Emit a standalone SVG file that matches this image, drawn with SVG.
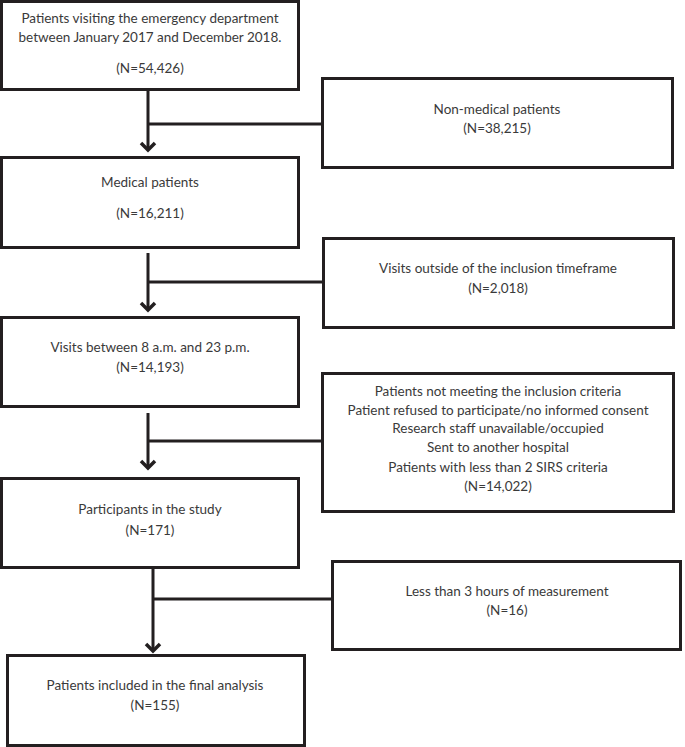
<svg xmlns="http://www.w3.org/2000/svg" width="685" height="747" viewBox="0 0 685 747">
<style>
.box{fill:#fff;stroke:#231f20;stroke-width:3}
.t{font-family:Lato,"Open Sans","Liberation Sans",sans-serif;font-size:13.5px;fill:#3a3a3a;text-anchor:middle;dominant-baseline:central}
.c{fill:none;stroke:#231f20;stroke-width:3}
.ah{fill:none;stroke:#231f20;stroke-width:3.5}
</style>
<rect width="685" height="747" fill="#fff"/>
<g id="connectors">
<path class="c" d="M148 89V150M148 124H322"/>
<polyline class="ah" points="141,143 148,150 155,143"/>
<path class="c" d="M148 253V310M148 282H322"/>
<polyline class="ah" points="141,303 148,310 155,303"/>
<path class="c" d="M148 413V468M148 441H322"/>
<polyline class="ah" points="141,461 148,468 155,461"/>
<path class="c" d="M153 568V651M153 599H332"/>
<polyline class="ah" points="146,644 153,651 160,644"/>
</g>
<g id="n1"><rect class="box" x="1.5" y="1.5" width="297" height="88"/>
<text class="t" x="150" y="18">Patients visiting the emergency department</text>
<text class="t" x="150" y="37">between January 2017 and December 2018.</text>
<text class="t" x="150" y="68">(N=54,426)</text></g>
<g id="n2"><rect class="box" x="322.5" y="78.5" width="350" height="89"/>
<text class="t" x="497" y="109">Non-medical patients</text>
<text class="t" x="497" y="128">(N=38,215)</text></g>
<g id="n3"><rect class="box" x="1.5" y="157.5" width="297" height="90"/>
<text class="t" x="150" y="182">Medical patients</text>
<text class="t" x="150" y="213">(N=16,211)</text></g>
<g id="n4"><rect class="box" x="323.5" y="238.5" width="350" height="89"/>
<text class="t" x="498" y="268">Visits outside of the inclusion timeframe</text>
<text class="t" x="498" y="288">(N=2,018)</text></g>
<g id="n5"><rect class="box" x="1.5" y="317.5" width="297" height="89"/>
<text class="t" x="150" y="347">Visits between 8 a.m. and 23 p.m.</text>
<text class="t" x="150" y="367">(N=14,193)</text></g>
<g id="n6"><rect class="box" x="322.5" y="373.5" width="351" height="138"/>
<text class="t" x="498" y="391">Patients not meeting the inclusion criteria</text>
<text class="t" x="498" y="410">Patient refused to participate/no informed consent</text>
<text class="t" x="498" y="428">Research staff unavailable/occupied</text>
<text class="t" x="498" y="447">Sent to another hospital</text>
<text class="t" x="498" y="467">Patients with less than 2 SIRS criteria</text>
<text class="t" x="498" y="486">(N=14,022)</text></g>
<g id="n7"><rect class="box" x="1.5" y="478.5" width="297" height="89"/>
<text class="t" x="150" y="509">Participants in the study</text>
<text class="t" x="150" y="530">(N=171)</text></g>
<g id="n8"><rect class="box" x="332.5" y="561.5" width="348" height="88"/>
<text class="t" x="507" y="591">Less than 3 hours of measurement</text>
<text class="t" x="507" y="610">(N=16)</text></g>
<g id="n9"><rect class="box" x="7.5" y="655.5" width="297" height="90"/>
<text class="t" x="155" y="685">Patients included in the final analysis</text>
<text class="t" x="155" y="705">(N=155)</text></g>
</svg>
